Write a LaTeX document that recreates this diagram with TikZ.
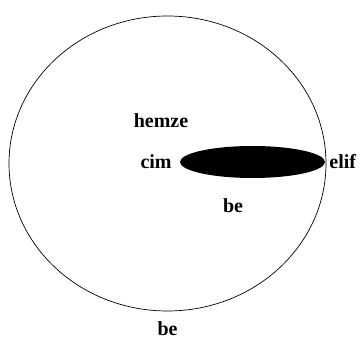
\documentclass[tikz,border=0pt]{standalone}
\usepackage{fontspec}
\setmainfont{Liberation Serif}
\usetikzlibrary{shapes.geometric, positioning}

\begin{document}
\begin{tikzpicture}[x=1pt,y=-1pt, word/.style={font=\fontsize{20}{22}\selectfont\bfseries, inner sep=1pt}]
      \useasboundingbox (0,0) rectangle (360,342);
      \node[draw, ellipse, line width=0.7pt, minimum width=317pt, minimum height=295pt, inner sep=0pt] (rim) at (167.5,163.5) {};
      \node[ellipse, fill=black, minimum width=145pt, minimum height=32pt, inner sep=0pt] (dot) at (252.5,162) {};
      \node[word] (cim) [left=7pt of dot] {cim};
      \node[word] (elif) [right=3pt of dot] {elif};
      \node[word] (hemze) at (161,121) {hemze};
      \node[word] (be) at (233,206) {be};
      \node[word] (beb) [below=9pt of rim] {be};
\end{tikzpicture}
\end{document}
